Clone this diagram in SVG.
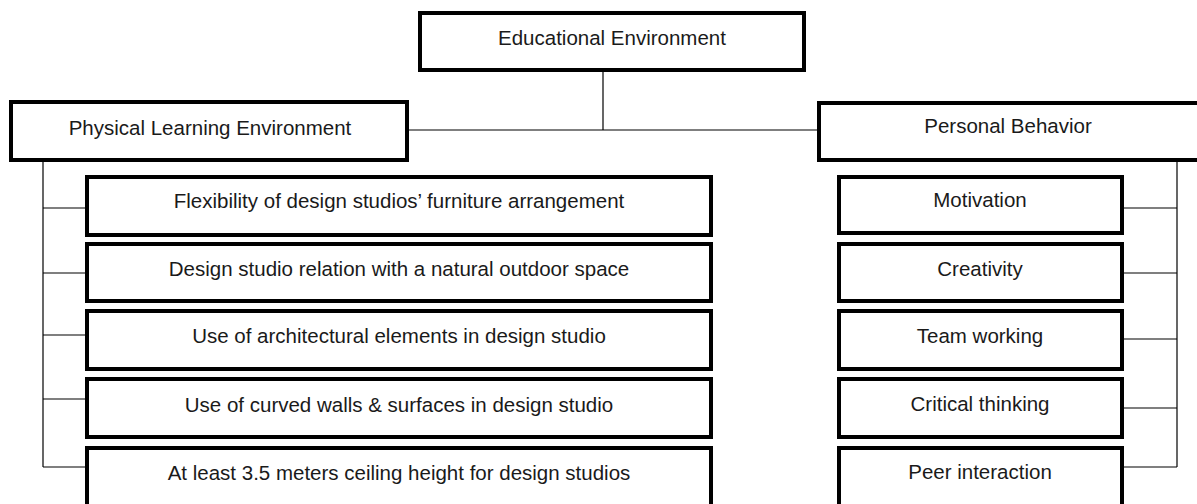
<svg xmlns="http://www.w3.org/2000/svg" width="1197" height="504" viewBox="0 0 1197 504">
<style>
.box{fill:#fff;stroke:#000;stroke-width:4}
.ln{stroke:#000;stroke-width:1.2;fill:none}
text{font-family:"Liberation Sans",Arial,sans-serif;font-size:20.5px;fill:#1a1a1a;text-anchor:middle}
</style>
<rect width="1197" height="504" fill="#fff"/>
<g id="connectors">
<line class="ln" x1="603" y1="72" x2="603" y2="130"/>
<line class="ln" x1="409" y1="130" x2="819" y2="130"/>
<line class="ln" x1="43" y1="162" x2="43" y2="467"/>
<line class="ln" x1="43" y1="208" x2="85" y2="208"/>
<line class="ln" x1="43" y1="273" x2="85" y2="273"/>
<line class="ln" x1="43" y1="335" x2="85" y2="335"/>
<line class="ln" x1="43" y1="399" x2="85" y2="399"/>
<line class="ln" x1="43" y1="467" x2="85" y2="467"/>
<line class="ln" x1="1177" y1="160" x2="1177" y2="467"/>
<line class="ln" x1="1123" y1="208" x2="1177" y2="208"/>
<line class="ln" x1="1123" y1="273" x2="1177" y2="273"/>
<line class="ln" x1="1123" y1="339" x2="1177" y2="339"/>
<line class="ln" x1="1123" y1="408" x2="1177" y2="408"/>
<line class="ln" x1="1123" y1="467" x2="1177" y2="467"/>
</g>
<g id="n-edu"><rect class="box" x="420" y="13" width="384" height="57"/><text x="612" y="45">Educational Environment</text></g>
<g id="n-phys"><rect class="box" x="11" y="102" width="396" height="58"/><text x="210" y="135">Physical Learning Environment</text></g>
<g id="n-pers"><rect class="box" x="819" y="103" width="400" height="57"/><text x="1008" y="133">Personal Behavior</text></g>
<g id="n-l1"><rect class="box" x="87" y="177" width="624" height="58"/><text x="399" y="208">Flexibility of design studios’ furniture arrangement</text></g>
<g id="n-l2"><rect class="box" x="87" y="244" width="624" height="57"/><text x="399" y="276">Design studio relation with a natural outdoor space</text></g>
<g id="n-l3"><rect class="box" x="87" y="311" width="624" height="58"/><text x="399" y="343">Use of architectural elements in design studio</text></g>
<g id="n-l4"><rect class="box" x="87" y="379" width="624" height="58"/><text x="399" y="412">Use of curved walls &amp; surfaces in design studio</text></g>
<g id="n-l5"><rect class="box" x="87" y="448" width="624" height="80"/><text x="399" y="480">At least 3.5 meters ceiling height for design studios</text></g>
<g id="n-r1"><rect class="box" x="839" y="177" width="283" height="56"/><text x="980" y="207">Motivation</text></g>
<g id="n-r2"><rect class="box" x="839" y="244" width="283" height="57"/><text x="980" y="276">Creativity</text></g>
<g id="n-r3"><rect class="box" x="839" y="311" width="283" height="58"/><text x="980" y="343">Team working</text></g>
<g id="n-r4"><rect class="box" x="839" y="379" width="283" height="58"/><text x="980" y="411">Critical thinking</text></g>
<g id="n-r5"><rect class="box" x="839" y="448" width="283" height="80"/><text x="980" y="479">Peer interaction</text></g>
</svg>
